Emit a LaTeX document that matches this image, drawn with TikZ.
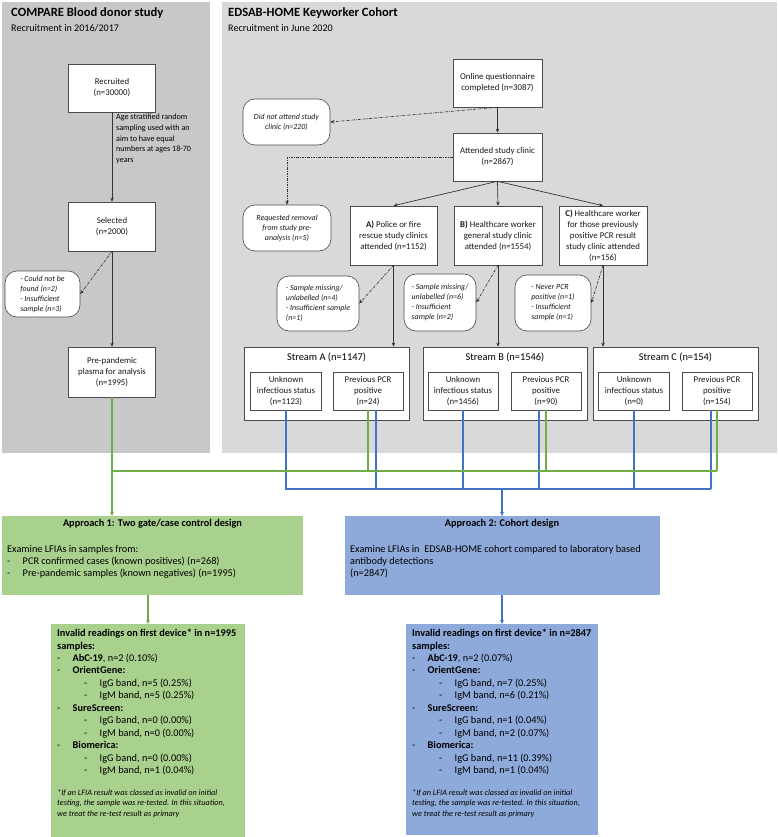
\documentclass[tikz,border=0pt]{standalone}
\usepackage{fontspec}
\setmainfont{Carlito}
\usetikzlibrary{arrows.meta}

\definecolor{donorgrey}{HTML}{C8C8C8}
\definecolor{cohortgrey}{HTML}{D9D9D9}
\definecolor{apgreen}{HTML}{A9D18E}
\definecolor{apblue}{HTML}{8EAADB}
\definecolor{linkgreen}{HTML}{70AD47}
\definecolor{linkblue}{HTML}{4472C4}

\newcommand{\lvlone}[1]{\makebox[15.5pt][l]{-}#1}
\newcommand{\lvltwo}[1]{\hspace*{27pt}\makebox[15.5pt][l]{-}#1}

\begin{document}
\begin{tikzpicture}[x=1pt,y=-1pt,
  flow/.style={draw=black!70,line width=0.6pt,fill=white,align=center,inner sep=1pt,text=black!90,font=\fontsize{8.8}{11}\selectfont},
  excl/.style={flow,align=left,rounded corners=12pt,font=\fontsize{7.9}{10}\selectfont\itshape},
  arr/.style={draw=black!80,line width=0.7pt,-{Stealth[length=4pt,width=3.5pt]}},
  dasharr/.style={arr,dash pattern=on 2.5pt off 1.2pt on 0.6pt off 1.2pt},
  gline/.style={draw=linkgreen,line width=1.6pt},
  bline/.style={draw=linkblue,line width=1.6pt},
  arrowend/.style={-{Stealth[length=4pt,width=4pt]}},
  txt/.style={inner sep=0pt,text=black,align=left},
]
  \useasboundingbox (0,0) rectangle (777,837);
  \fill[donorgrey] (2,2) rectangle (210,453);
  \fill[cohortgrey] (222,2) rectangle (777,453);

  \node[txt,anchor=west,font=\bfseries\fontsize{12.6}{15}\selectfont] (donorhead) at (11,13) {COMPARE Blood donor study};
  \node[txt,anchor=west,font=\fontsize{10.1}{12}\selectfont] (donorsub) at (11,28) {Recruitment in 2016/2017};
  \node[txt,anchor=west,font=\bfseries\fontsize{12.6}{15}\selectfont] (cohorthead) at (228,13) {EDSAB-HOME Keyworker Cohort};
  \node[txt,anchor=west,font=\fontsize{10.1}{12}\selectfont] (cohortsub) at (228,28) {Recruitment in June 2020};

  % blood donor side
  \node[flow,minimum width=87pt,minimum height=48pt] (recruited) at (112,88) {Recruited\\(n=30000)};
  \node[flow,minimum width=87pt,minimum height=49pt] (selected) at (112,226.5) {Selected\\(n=2000)};
  \node[flow,minimum width=87pt,minimum height=50pt] (plasma) at (112,372) {Pre-pandemic\\plasma for analysis\\(n=1995)};
  \node[excl,minimum width=75pt,minimum height=46pt] (notfound) at (42.5,294) {- Could not be\\found (n=2)\\- Insufficient\\sample (n=3)};
  \node[txt,anchor=north west,font=\fontsize{8.1}{10.7}\selectfont] (agenote) at (116,114) {Age stratified random\\sampling used with an\\aim to have equal\\numbers at ages 18-70\\years};

  % keyworker cohort side
  \node[flow,minimum width=89pt,minimum height=48pt] (online) at (497.5,83) {Online questionnaire\\completed (n=3087)};
  \node[flow,minimum width=89pt,minimum height=48pt] (attended) at (497.5,157) {Attended study clinic\\(n=2867)};
  \node[excl,align=center,minimum width=87pt,minimum height=46pt] (noattend) at (286.5,122) {Did not attend study\\clinic (n=220)};
  \node[excl,align=center,minimum width=88pt,minimum height=46pt] (removal) at (287,228) {Requested removal\\from study pre-\\analysis (n=5)};
  \node[flow,minimum width=87pt,minimum height=59pt] (armA) at (393.5,235.5) {\textbf{A)} Police or fire\\rescue study clinics\\attended (n=1152)};
  \node[flow,minimum width=88pt,minimum height=59pt] (armB) at (498,235.5) {\textbf{B)} Healthcare worker\\general study clinic\\attended (n=1554)};
  \node[flow,minimum width=88pt,minimum height=59pt] (armC) at (603,235.5) {\textbf{C)} Healthcare worker\\for those previously\\positive PCR result\\study clinic attended\\(n=156)};
  \node[excl,minimum width=82pt,minimum height=55pt] (exA) at (318,303.5) {- Sample missing/\\unlabelled (n=4)\\- Insufficient sample\\(n=1)};
  \node[excl,minimum width=72pt,minimum height=57pt] (exB) at (440,302.5) {- Sample missing/\\unlabelled (n=6)\\- Insufficient\\sample (n=2)};
  \node[excl,minimum width=76pt,minimum height=56pt] (exC) at (553,303) {- Never PCR\\positive (n=1)\\- Insufficient\\sample (n=1)};

  \node[flow,minimum width=165pt,minimum height=73pt] (streamA) at (326.5,383.5) {};
  \node[flow,minimum width=164pt,minimum height=73pt] (streamB) at (505,383.5) {};
  \node[flow,minimum width=165pt,minimum height=73pt] (streamC) at (675.5,383.5) {};
  \node[txt,font=\fontsize{10.4}{12}\selectfont] (streamAhead) at (326.5,357) {Stream A (n=1147)};
  \node[txt,font=\fontsize{10.4}{12}\selectfont] (streamBhead) at (505,357) {Stream B (n=1546)};
  \node[txt,font=\fontsize{10.4}{12}\selectfont] (streamChead) at (675.5,357) {Stream C (n=154)};
  \node[flow,minimum width=71pt,minimum height=38pt] (unknownA) at (286,391) {Unknown\\infectious status\\(n=1123)};
  \node[flow,minimum width=70pt,minimum height=38pt] (prevA) at (368,391) {Previous PCR\\positive\\(n=24)};
  \node[flow,minimum width=70pt,minimum height=38pt] (unknownB) at (463,391) {Unknown\\infectious status\\(n=1456)};
  \node[flow,minimum width=70pt,minimum height=38pt] (prevB) at (546,391) {Previous PCR\\positive\\(n=90)};
  \node[flow,minimum width=71pt,minimum height=38pt] (unknownC) at (634,391) {Unknown\\infectious status\\(n=0)};
  \node[flow,minimum width=70pt,minimum height=38pt] (prevC) at (717,391) {Previous PCR\\positive\\(n=154)};

  % approaches
  \node[fill=apgreen,minimum width=301pt,minimum height=79pt,inner sep=0pt] (approach1) at (152.5,555.5) {};
  \node[txt,font=\bfseries\fontsize{10.3}{12}\selectfont] (approach1head) at (152.5,524) {Approach 1: Two gate/case control design};
  \node[txt,anchor=north west,font=\fontsize{10.3}{12.2}\selectfont] (approach1text) at (7,545) {Examine LFIAs in samples from:\\\lvlone{PCR confirmed cases (known positives) (n=268)}\\\lvlone{Pre-pandemic samples (known negatives) (n=1995)}};
  \node[fill=apblue,minimum width=315pt,minimum height=79pt,inner sep=0pt] (approach2) at (502,555.5) {};
  \node[txt,font=\bfseries\fontsize{10.3}{12}\selectfont] (approach2head) at (502,524) {Approach 2: Cohort design};
  \node[txt,anchor=north west,font=\fontsize{10.3}{12.2}\selectfont] (approach2text) at (350,545) {Examine LFIAs in\ \ EDSAB-HOME cohort compared to laboratory based\\antibody detections\\(n=2847)};

  \node[fill=apgreen,minimum width=194pt,minimum height=213pt,inner sep=0pt] (invalid1) at (148,730.5) {};
  \node[txt,anchor=north west,font=\fontsize{10.3}{12.45}\selectfont] (invalid1text) at (57,629) {\textbf{Invalid readings on first device* in n=1995}\\\textbf{samples:}\\
    \lvlone{\textbf{AbC-19}, n=2 (0.10\%)}\\\lvlone{\textbf{OrientGene:}}\\\lvltwo{IgG band, n=5 (0.25\%)}\\\lvltwo{IgM band, n=5 (0.25\%)}\\
    \lvlone{\textbf{SureScreen:}}\\\lvltwo{IgG band, n=0 (0.00\%)}\\\lvltwo{IgM band, n=0 (0.00\%)}\\
    \lvlone{\textbf{Biomerica:}}\\\lvltwo{IgG band, n=0 (0.00\%)}\\\lvltwo{IgM band, n=1 (0.04\%)}};
  \node[txt,anchor=north west,font=\itshape\fontsize{8.2}{10.5}\selectfont] (invalid1note) at (57,789) {*If an LFIA result was classed as invalid on initial\\testing, the sample was re-tested. In this situation,\\we treat the re-test result as primary};
  \node[fill=apblue,minimum width=192pt,minimum height=211pt,inner sep=0pt] (invalid2) at (502,729.5) {};
  \node[txt,anchor=north west,font=\fontsize{10.3}{12.45}\selectfont] (invalid2text) at (412,629) {\textbf{Invalid readings on first device* in n=2847}\\\textbf{samples:}\\
    \lvlone{\textbf{AbC-19}, n=2 (0.07\%)}\\\lvlone{\textbf{OrientGene:}}\\\lvltwo{IgG band, n=7 (0.25\%)}\\\lvltwo{IgM band, n=6 (0.21\%)}\\
    \lvlone{\textbf{SureScreen:}}\\\lvltwo{IgG band, n=1 (0.04\%)}\\\lvltwo{IgM band, n=2 (0.07\%)}\\
    \lvlone{\textbf{Biomerica:}}\\\lvltwo{IgG band, n=11 (0.39\%)}\\\lvltwo{IgM band, n=1 (0.04\%)}};
  \node[txt,anchor=north west,font=\itshape\fontsize{8.2}{10.5}\selectfont] (invalid2note) at (412,789) {*If an LFIA result was classed as invalid on initial\\testing, the sample was re-tested. In this situation,\\we treat the re-test result as primary};

  % connectors
  \draw[arr] (recruited) -- (selected);
  \draw[arr] (selected) -- (plasma);
  \draw[dasharr] (selected.south) -- (notfound.east);
  \draw[arr] (online) -- (attended);
  \draw[dasharr] (online.south) -- (noattend.east);
  \draw[dasharr] (attended.west) -| (removal.north);
  \draw[arr] (attended.south) -- (armA.north);
  \draw[arr] (attended.south) -- (armB.north);
  \draw[arr] (attended.south) -- (armC.north);
  \draw[arr] (armA.south) -- (armA.south |- streamA.north);
  \draw[arr] (armB.south) -- (armB.south |- streamB.north);
  \draw[arr] (armC.south) -- (armC.south |- streamC.north);
  \draw[dasharr] (armA.south) -- (exA.east);
  \draw[dasharr] (armB.south) -- (exB.east);
  \draw[dasharr] (armC.south) -- (exC.east);

  \coordinate (gleft) at (112,471);
  \coordinate (gright) at (717,471);
  \coordinate (bleft) at (286,489);
  \coordinate (bright) at (711,489);
  \coordinate (prevAblue) at ([xshift=8pt]prevA.south);
  \coordinate (prevBblue) at ([xshift=-7pt]prevB.south);
  \coordinate (prevCblue) at ([xshift=-6pt]prevC.south);

  \draw[bline] (unknownA.south) -- (bleft) -- (bright);
  \draw[bline] (prevAblue) -- (prevAblue |- bleft);
  \draw[bline] (unknownB.south) -- (unknownB.south |- bleft);
  \draw[bline] (prevBblue) -- (prevBblue |- bleft);
  \draw[bline] (unknownC.south) -- (unknownC.south |- bleft);
  \draw[bline] (prevCblue) -- (bright);
  \draw[gline] (plasma.south) -- (gleft) -- (gright);
  \draw[gline] (prevA.south) -- (prevA.south |- gleft);
  \draw[gline] (prevB.south) -- (prevB.south |- gleft);
  \draw[gline] (prevC.south) -- (gright);
  \draw[gline,arrowend] (gleft) -- (gleft |- approach1.north);
  \draw[bline,arrowend] (approach2.north |- bleft) -- (approach2.north);
  \draw[gline,arrowend] (approach1.south -| invalid1.north) -- (invalid1.north);
  \draw[bline,arrowend] (approach2.south -| invalid2.north) -- (invalid2.north);
\end{tikzpicture}
\end{document}
